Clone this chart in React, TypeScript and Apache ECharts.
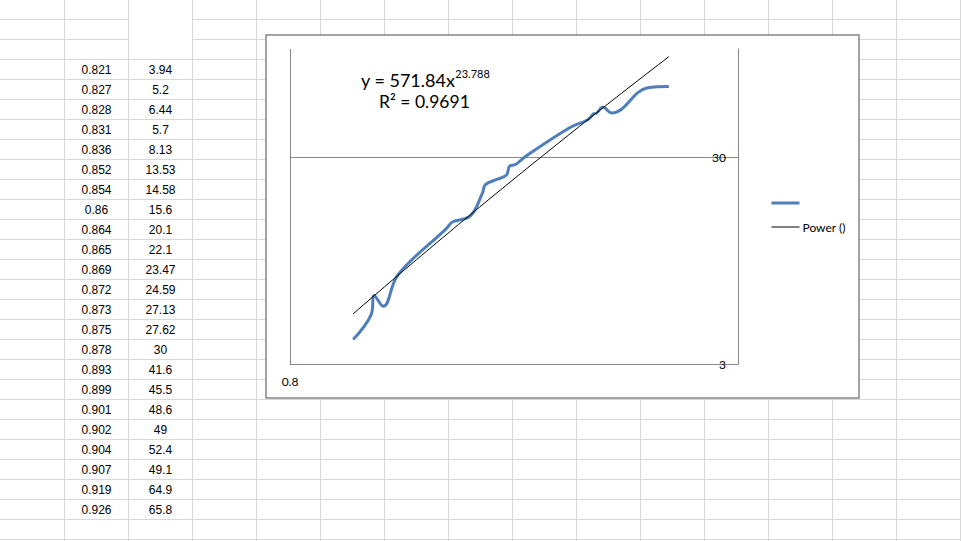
import React, { useEffect, useRef } from "react";
import * as echarts from "echarts";

// ---- data (read from the sheet / chart) ----
const xValues = [0.821, 0.827, 0.828, 0.831, 0.836, 0.852, 0.854, 0.86, 0.864, 0.865, 0.869, 0.872, 0.873, 0.875, 0.878, 0.893, 0.899, 0.901, 0.902, 0.904, 0.907, 0.919, 0.926];
const yValues = [3.94, 5.2, 6.44, 5.7, 8.13, 13.53, 14.58, 15.6, 20.1, 22.1, 23.47, 24.59, 27.13, 27.62, 30, 41.6, 45.5, 48.6, 49, 52.4, 49.1, 64.9, 65.8];
const xTickValues = [0.8];
const yTickValues = [3, 30];
const seriesName = " ";
const trendName = "Power ()";
const equationMain = "y = 571.84x";
const equationExponent = "23.788";
const rSquaredText = "R² = 0.9691";

// least-squares power fit (ln y = ln a + b ln x), as the spreadsheet trendline does
function powerFit(xs: number[], ys: number[]) {
  const n = xs.length;
  let sx = 0, sy = 0, sxx = 0, sxy = 0;
  for (let i = 0; i < n; i++) {
    const lx = Math.log(xs[i]);
    const ly = Math.log(ys[i]);
    sx += lx; sy += ly; sxx += lx * lx; sxy += lx * ly;
  }
  const b = (n * sxy - sx * sy) / (n * sxx - sx * sx);
  const lnA = (sy - b * sx) / n;
  return { a: Math.exp(lnA), b };
}

export default function App() {
  const ref = useRef<HTMLDivElement>(null);

  useEffect(() => {
    if (!ref.current) return;
    const chart = echarts.init(ref.current, null, { renderer: "svg" });

    const fit = powerFit(xValues, yValues);
    const x0 = xValues[0];
    const x1 = xValues[xValues.length - 1];
    const trendData: number[][] = [];
    const steps = 60;
    for (let i = 0; i <= steps; i++) {
      const x = x0 + ((x1 - x0) * i) / steps;
      trendData.push([x, fit.a * Math.pow(x, fit.b)]);
    }

    const gridColor = "#D8D8D8";
    const graphics: any[] = [];
    // spreadsheet horizontal lines
    for (let y = 20; y <= 540; y += 20) {
      if (y === 20 || y === 40) {
        graphics.push({ type: "line", z: -20, shape: { x1: 0, y1: y - 0.5, x2: 128, y2: y - 0.5 }, style: { stroke: gridColor, lineWidth: 1 } });
        graphics.push({ type: "line", z: -20, shape: { x1: 192, y1: y - 0.5, x2: 961, y2: y - 0.5 }, style: { stroke: gridColor, lineWidth: 1 } });
      } else {
        graphics.push({ type: "line", z: -20, shape: { x1: 0, y1: y - 0.5, x2: 961, y2: y - 0.5 }, style: { stroke: gridColor, lineWidth: 1 } });
      }
    }
    // spreadsheet vertical lines
    for (let x = 64; x <= 960; x += 64) {
      graphics.push({ type: "line", z: -20, shape: { x1: x + 0.5, y1: 0, x2: x + 0.5, y2: 541 }, style: { stroke: gridColor, lineWidth: 1 } });
    }
    // cell texts
    xValues.forEach((v, i) => {
      graphics.push({
        type: "text", z: -10,
        style: { text: String(v), x: 96.5, y: 70 + 20 * i, align: "center", verticalAlign: "middle", fontFamily: "Liberation Sans", fontSize: 12, fill: "#000" },
      });
    });
    yValues.forEach((v, i) => {
      graphics.push({
        type: "text", z: -10,
        style: { text: String(v), x: 160.5, y: 70 + 20 * i, align: "center", verticalAlign: "middle", fontFamily: "Liberation Sans", fontSize: 12, fill: "#000" },
      });
    });
    // chart area box
    graphics.push({
      type: "rect", z: -5,
      shape: { x: 266, y: 35, width: 593, height: 363 },
      style: { fill: "#fff", stroke: "#858585", lineWidth: 1.5 },
    });
    // trendline label
    graphics.push({
      type: "text", z: 10,
      style: {
        text: "{a|" + equationMain + "}{s|" + equationExponent + "}",
        x: 361, y: 68, align: "left", verticalAlign: "top",
        rich: {
          a: { fontFamily: "Lato", fontSize: 18, lineHeight: 24, fill: "#000" },
          s: { fontFamily: "Lato", fontSize: 11, lineHeight: 14, verticalAlign: "top", fill: "#000" },
        },
      },
    });
    graphics.push({
      type: "text", z: 10,
      style: { text: rSquaredText, x: 379, y: 101, align: "left", verticalAlign: "middle", fontFamily: "Lato", fontSize: 17.5, fill: "#000" },
    });

    const option: any = {
      animation: false,
      backgroundColor: "transparent",
      textStyle: { fontFamily: "Lato" },
      graphic: { elements: graphics },
      grid: { left: 290, top: 49, right: 223, bottom: 177, containLabel: false },
      legend: {
        orient: "vertical",
        left: 770,
        top: 197,
        padding: 0,
        itemWidth: 28,
        itemHeight: 14,
        itemGap: 12,
        itemStyle: { opacity: 0 },
        textStyle: { fontFamily: "Lato", fontSize: 12, color: "#000", padding: [0, 0, 0, -2] },
        data: [
          { name: seriesName, lineStyle: { width: 3 } },
          { name: trendName, lineStyle: { width: 1 } },
        ],
      },
      xAxis: {
        type: "value",
        min: 0.8,
        max: 0.949,
        axisLine: { show: true, lineStyle: { color: "#868686", width: 1 } },
        axisTick: { show: false, customValues: xTickValues },
        axisLabel: { customValues: xTickValues, margin: 11, fontFamily: "Lato", fontSize: 12, color: "#000", formatter: (v: number) => String(v) },
        splitLine: { show: true, lineStyle: { color: "#868686", width: 1 } },
      },
      yAxis: {
        type: "log",
        logBase: 10,
        min: 3,
        max: 100,
        position: "right",
        axisLine: { show: true, onZero: false, lineStyle: { color: "#868686", width: 1 } },
        axisTick: { show: false, customValues: yTickValues },
        axisLabel: { customValues: yTickValues, inside: true, margin: 12, fontFamily: "Lato", fontSize: 12, color: "#000", formatter: (v: number) => String(Math.round(v)) },
        splitLine: { show: true, lineStyle: { color: "#868686", width: 1 } },
      },
      series: [
        {
          name: seriesName,
          type: "line",
          smooth: 0.4,
          symbol: "none",
          lineStyle: { color: "#4F7FBA", width: 3 },
          itemStyle: { color: "#4F7FBA" },
          data: xValues.map((x, i) => [x, yValues[i]]),
          z: 3,
        },
        {
          name: trendName,
          type: "line",
          symbol: "none",
          lineStyle: { color: "#000", width: 1 },
          itemStyle: { color: "#000" },
          data: trendData,
          z: 4,
        },
      ],
    };
    chart.setOption(option);
    return () => chart.dispose();
  }, []);

  return (
    <div
      ref={ref}
      style={{ position: "fixed", left: 0, top: 0, width: 961, height: 541, background: "#fff" }}
    />
  );
}
